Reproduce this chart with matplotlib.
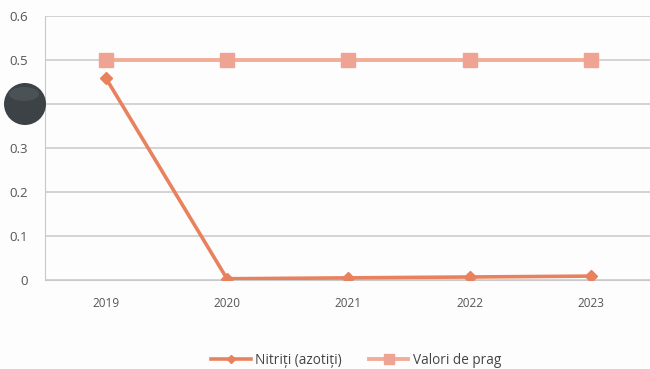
import matplotlib
matplotlib.use("Agg")
import matplotlib.pyplot as plt
from matplotlib.patches import Ellipse
from matplotlib.lines import Line2D

years = ["2019", "2020", "2021", "2022", "2023"]
nitriti = [0.46, 0.003, 0.005, 0.007, 0.009]
prag = [0.50, 0.50, 0.50, 0.50, 0.50]
y_ticks = [0, 0.1, 0.2, 0.3, 0.4, 0.5, 0.6]
y_tick_labels = ["0", "0.1", "0.2", "0.3", "0.4", "0.5", "0.6"]

plt.rcParams["font.family"] = ["Open Sans", "DejaVu Sans"]

W, H = 650, 369
fig = plt.figure(figsize=(W / 100, H / 100), dpi=100)
fig.patch.set_facecolor("#fdfdfd")
ax = fig.add_axes([0.069, 0.241, 0.934, 0.716])
ax.set_facecolor("#fdfdfd")

x = list(range(len(years)))
c_nit = "#E8825E"
c_prag = "#F2AD98"

ax.plot(x, prag, color=c_prag, lw=2.8, marker="s", ms=9.5,
        markerfacecolor="#EFA493", markeredgecolor="#EFA493", zorder=3,
        label="Valori de prag")
ax.plot(x, nitriti, color=c_nit, lw=2.6, marker="D", ms=6,
        markerfacecolor=c_nit, markeredgecolor=c_nit, zorder=4,
        label="Nitriți (azotiți)")

ax.set_xlim(-0.5, len(years) - 0.5)
ax.set_ylim(0, 0.6)
ax.set_yticks(y_ticks)
ax.set_yticklabels(y_tick_labels)
ax.set_xticks(x)
ax.set_xticklabels(years)
ax.grid(axis="y", color="#c8c8c8", lw=1.1)
ax.set_axisbelow(True)
for s in ["top", "right"]:
    ax.spines[s].set_visible(False)
ax.spines["left"].set_color("#c8c8c8")
ax.spines["bottom"].set_color("#c8c8c8")
ax.tick_params(axis="both", length=0, colors="#555555")
ax.tick_params(axis="y", labelsize=9.5, pad=12)
ax.tick_params(axis="x", labelsize=8.5, pad=12)

handles = [
    Line2D([], [], color=c_nit, lw=2.6, marker="D", ms=4.5),
    Line2D([], [], color=c_prag, lw=2.8, marker="s", ms=7,
           markerfacecolor="#EFA493", markeredgecolor="#EFA493"),
]
fig.legend(handles, ["Nitriți (azotiți)", "Valori de prag"], loc="lower center",
           bbox_to_anchor=(0.548, -0.03), ncol=2, frameon=False, fontsize=9.8,
           handlelength=2.9, handletextpad=0.3, columnspacing=2.0,
           labelcolor="#444444")

# punched hole in the printed page (sizes given in pixels)
cx, cy, r = 25, 104, 21
fig.patches.append(Ellipse((cx / W, 1 - cy / H), 2 * r / W, 2 * r / H,
                           transform=fig.transFigure, facecolor="#3c4246",
                           edgecolor="none", zorder=10))
fig.patches.append(Ellipse(((cx - 1) / W, 1 - (cy - 10) / H), 30 / W, 14 / H,
                           transform=fig.transFigure, facecolor="#6f787e",
                           edgecolor="none", alpha=0.3, zorder=11))

fig.savefig("out.png", dpi=100, facecolor=fig.get_facecolor())
